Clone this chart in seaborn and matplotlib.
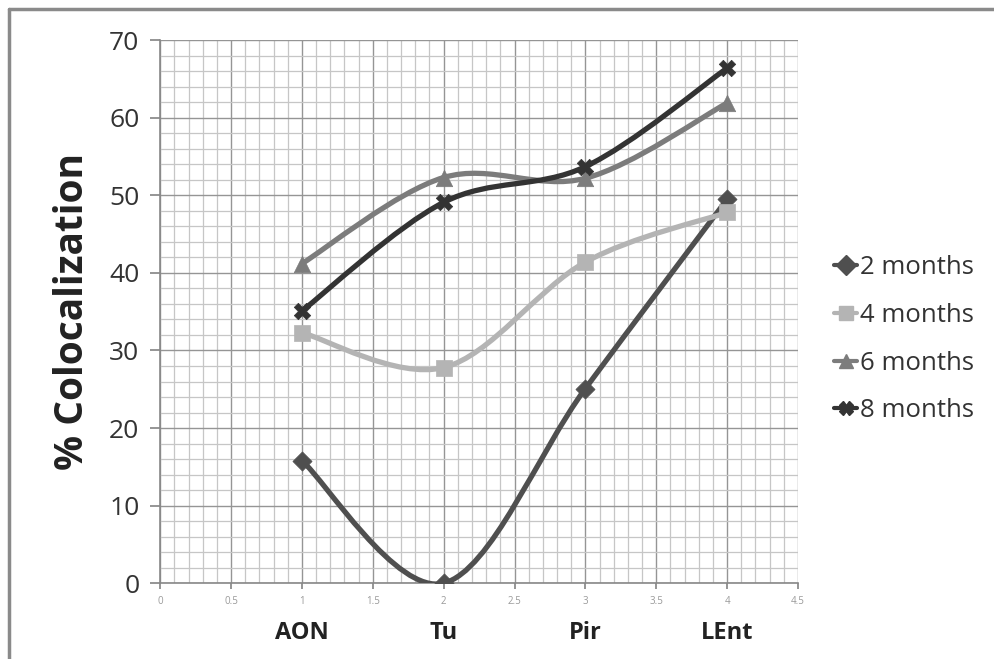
"""
Colocalization by region and age - recreated with seaborn/matplotlib
"""

import numpy as np
import pandas as pd
import matplotlib
matplotlib.use('Agg')
import matplotlib.pyplot as plt
from matplotlib.path import Path
from matplotlib.patches import PathPatch
from matplotlib.lines import Line2D
from matplotlib.ticker import MultipleLocator
import seaborn as sns

# --- data ---
regions = ['AON', 'Tu', 'Pir', 'LEnt']
positions = [1, 2, 3, 4]
series_names = ['2 months', '4 months', '6 months', '8 months']
months_2 = [15.8, 0.0, 25.1, 49.5]
months_4 = [32.3, 27.8, 41.4, 47.8]
months_6 = [41.2, 52.3, 52.2, 61.9]
months_8 = [35.1, 49.1, 53.7, 66.4]

colors = ['#4f4f4f', '#b4b4b4', '#7c7c7c', '#333333']
markers = ['D', 's', '^', 'X']
marker_sizes = [95, 130, 140, 140]

df = pd.DataFrame({
    'pos': positions * 4,
    'value': months_2 + months_4 + months_6 + months_8,
    'series': np.repeat(series_names, len(positions)),
})

sns.set_theme(style='white')
plt.rcParams['font.family'] = ['Open Sans', 'DejaVu Sans']

fig = plt.figure(figsize=(9.95, 6.59), dpi=100)
ax = fig.add_axes([0.161, 0.115, 0.641, 0.824])


def smooth_path(xs, ys):
    """Excel-style smoothed line as cubic Bezier segments through the points."""
    pts = np.column_stack([xs, ys]).astype(float)
    ext = np.vstack([pts[0], pts, pts[-1]])
    verts = [pts[0]]
    codes = [Path.MOVETO]
    for i in range(len(pts) - 1):
        p_prev, p0, p1, p_next = ext[i], ext[i + 1], ext[i + 2], ext[i + 3]
        c1 = p0 + (p1 - p_prev) / 6.0
        c2 = p1 - (p_next - p0) / 6.0
        verts += [c1, c2, p1]
        codes += [Path.CURVE4] * 3
    return Path(verts, codes)


for name, color in zip(series_names, colors):
    sub = df[df['series'] == name]
    patch = PathPatch(smooth_path(sub['pos'], sub['value']), facecolor='none',
                      edgecolor=color, lw=3.8, zorder=3, capstyle='round')
    ax.add_patch(patch)

for name, color, mk, ms in zip(series_names, colors, markers, marker_sizes):
    sub = df[df['series'] == name]
    sns.scatterplot(data=sub, x='pos', y='value', color=color, marker=mk,
                    s=ms, edgecolor=color, linewidth=0.5, ax=ax, zorder=4,
                    legend=False)

ax.set_xlim(0, 4.5)
ax.set_ylim(0, 70)
ax.xaxis.set_major_locator(MultipleLocator(0.5))
ax.xaxis.set_minor_locator(MultipleLocator(0.1))
ax.yaxis.set_major_locator(MultipleLocator(10))
ax.yaxis.set_minor_locator(MultipleLocator(2))
ax.grid(which='major', color='#959595', lw=1.0)
ax.grid(which='minor', color='#c6c6c6', lw=0.9)
ax.set_axisbelow(True)

ax.set_xticks(np.arange(0, 4.51, 0.5))
ax.set_xticklabels(['0', '0.5', '1', '1.5', '2', '2.5', '3', '3.5', '4', '4.5'])
ax.tick_params(axis='x', which='major', labelsize=7, labelcolor='#9a9a9a',
               length=4, color='#888888', bottom=True, pad=5)
ax.tick_params(axis='y', which='major', labelsize=19, labelcolor='#333333',
               length=7, color='#888888', left=True, pad=8)
ax.tick_params(which='minor', length=0)

for side in ['top', 'right']:
    ax.spines[side].set_visible(False)
for side in ['left', 'bottom']:
    ax.spines[side].set_color('#888888')
    ax.spines[side].set_linewidth(1.2)

ax.set_xlabel('')
ax.set_ylabel('% Colocalization', fontsize=28, fontweight='bold',
              color='#222222', labelpad=12)

for region, p in zip(regions, positions):
    ax.text(p, -6.4, region, ha='center', va='center', fontsize=17,
            fontweight='bold', color='#222222', transform=ax.transData,
            clip_on=False)

handles = [Line2D([0], [0], color=c, lw=3, marker=m, markersize=10,
                  markeredgecolor=c) for c, m in zip(colors, markers)]
fig.legend(handles, series_names, loc='center left',
           bbox_to_anchor=(0.815, 0.485), frameon=False, fontsize=18.5,
           handlelength=0.9, handletextpad=0.1, labelspacing=0.88,
           labelcolor='#333333')

# page frame (top and left edges)
fig.add_artist(Line2D([0.009, 0.009], [0, 0.986], color='#8a8a8a', lw=2.5,
                      transform=fig.transFigure))
fig.add_artist(Line2D([0.009, 1], [0.986, 0.986], color='#8a8a8a', lw=2.5,
                      transform=fig.transFigure))

fig.savefig('out.png', dpi=100)
